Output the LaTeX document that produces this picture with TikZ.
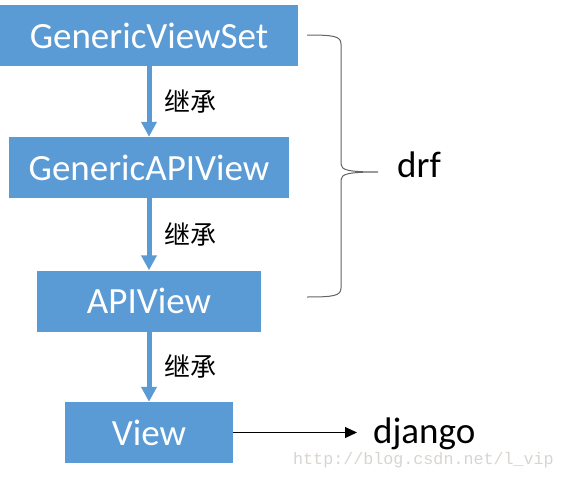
\documentclass[tikz,border=0pt]{standalone}
\usepackage{fontspec}
\setmainfont{Carlito}
\newfontfamily\cjk{Noto Sans CJK SC}
\newfontfamily\wmfont{Liberation Mono}
\usetikzlibrary{arrows.meta}
\definecolor{boxblue}{RGB}{91,155,213}
\definecolor{bracegray}{RGB}{100,100,100}
\definecolor{markgray}{RGB}{216,212,208}

\begin{document}
\begin{tikzpicture}[x=1pt,y=-1pt,
	cls/.style={fill=boxblue,text=white,minimum height=61pt,inner sep=0pt,font=\fontsize{37}{40}\selectfont},
	inh/.style={draw=boxblue,line width=5pt,-{Triangle[width=15pt,length=15pt]}},
	inhlabel/.style={right=13pt,inner sep=0pt,font=\cjk\fontsize{26}{28}\selectfont},
	side/.style={inner sep=0pt,font=\fontsize{37}{40}\selectfont}]
	\useasboundingbox (0,0) rectangle (565,479);
	\node[cls,minimum width=298pt] (viewset) at (149,35.5) {GenericViewSet};
	\node[cls,minimum width=280pt] (genericapi) at (149,167.5) {GenericAPIView};
	\node[cls,minimum width=224pt] (apiview) at (149,301) {APIView};
	\node[cls,minimum width=168pt] (view) at (149,432.5) {View};
	\draw[inh] (viewset.south) -- node[inhlabel] {继承} (genericapi.north);
	\draw[inh] (genericapi.south) -- node[inhlabel] {继承} (apiview.north);
	\draw[inh] (apiview.south) -- node[inhlabel] {继承} (view.north);
	% drf brace
	\coordinate (bracetop) at (307,35);
	\coordinate (bracetip) at (378,172);
	\coordinate (bracebot) at (307,297);
	\draw[bracegray,line width=1pt] (bracetop) .. controls (333,35) and (341,36) .. (341,44) -- (341,164) .. controls (341,170) and (348,172) .. (bracetip) .. controls (348,172) and (341,174) .. (341,180) -- (341,288) .. controls (341,296) and (333,297) .. (bracebot);
	\node[side,anchor=base west] (drf) at (397,177) {drf};
	\node[side,anchor=base west] (django) at (373,443) {django};
	\draw[line width=1pt,-{Triangle[width=11pt,length=12pt]},shorten >=16pt] (view.east) -- (view.east -| django.west);
	\node[anchor=base west,inner sep=0pt,text=markgray,font=\wmfont\fontsize{16.7}{18}\selectfont] (watermark) at (293,464) {http://blog.csdn.net/l\_vip};
\end{tikzpicture}
\end{document}
